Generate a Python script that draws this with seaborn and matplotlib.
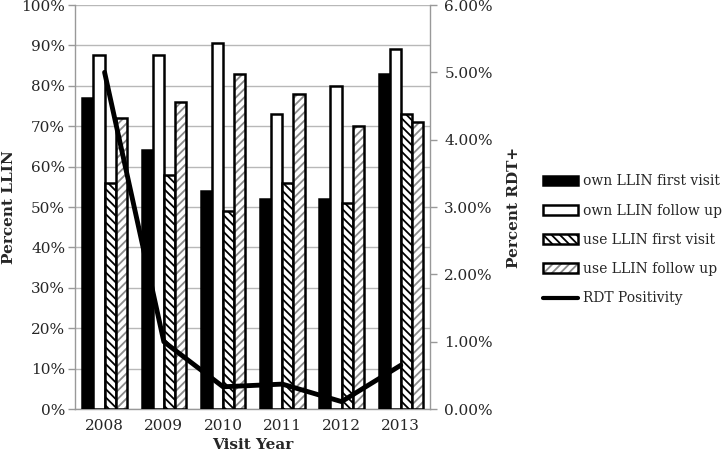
import numpy as np
import pandas as pd
import matplotlib
matplotlib.use('Agg')
import matplotlib.pyplot as plt
import seaborn as sns
from matplotlib.patches import Patch, Rectangle
from matplotlib.lines import Line2D
from matplotlib.ticker import FuncFormatter

years = ['2008', '2009', '2010', '2011', '2012', '2013']
own_first = [77, 64, 54, 52, 52, 83]
own_follow = [87.7, 87.7, 90.6, 73, 80, 89]
use_first = [56, 58, 49, 56, 51, 73]
use_follow = [72, 76, 83, 78, 70, 71]
rdt_pos = [5.0, 1.0, 0.33, 0.37, 0.11, 0.65]
series_names = ['own LLIN first visit', 'own LLIN follow up',
                'use LLIN first visit', 'use LLIN follow up']
line_name = 'RDT Positivity'
left_ticks = list(range(0, 101, 10))
right_ticks = [0, 1, 2, 3, 4, 5, 6]

sns.set_style('white')
plt.rcParams['font.family'] = ['DejaVu Serif']
plt.rcParams['hatch.linewidth'] = 1.3

df = pd.DataFrame({
    'year': years * 4,
    'value': own_first + own_follow + use_first + use_follow,
    'measure': np.repeat(series_names, len(years)),
})

fig = plt.figure(figsize=(7.25, 4.57), dpi=100)
ax = fig.add_axes([0.1034, 0.105, 0.4903, 0.884])

sns.barplot(data=df, x='year', y='value', hue='measure', hue_order=series_names,
            order=years, palette=['black', 'white', 'white', 'white'],
            width=0.75, ax=ax, legend=False, errorbar=None, zorder=3,
            saturation=1)

edge_lw = 1.8
gray = '#8a8a8a'
for i, cont in enumerate(ax.containers):
    for p in cont.patches:
        if i == 0:
            p.set_facecolor('black'); p.set_edgecolor('black'); p.set_linewidth(edge_lw)
        elif i == 1:
            p.set_facecolor('white'); p.set_edgecolor('black'); p.set_linewidth(edge_lw)
        elif i == 2:
            p.set_facecolor('white'); p.set_edgecolor('black'); p.set_linewidth(edge_lw)
            p.set_hatch('\\\\\\\\')
        else:
            p.set_facecolor('white'); p.set_edgecolor(gray); p.set_linewidth(0)
            p.set_hatch('////')
            ov = Rectangle(p.get_xy(), p.get_width(), p.get_height(), fill=False,
                           edgecolor='black', linewidth=edge_lw, zorder=3.1)
            ax.add_patch(ov)

ax.set_ylim(0, 100)
ax.set_yticks(left_ticks)
ax.yaxis.set_major_formatter(FuncFormatter(lambda v, _: f'{v:.0f}%'))
ax.yaxis.grid(True, color='#b8b8b8', linewidth=1)
ax.set_axisbelow(True)
ax.set_xlim(-0.5, len(years) - 0.5)
ax.set_xticks(np.arange(len(years)))
ax.set_xticks(np.arange(len(years) + 1) - 0.5, minor=True)
ax.tick_params(axis='x', which='major', length=0, labelsize=11, pad=7)
ax.tick_params(axis='x', which='minor', length=5, color='#999999', width=1)
ax.tick_params(axis='y', length=5, color='#999999', width=1, labelsize=11, pad=2)
for s in ['left', 'bottom']:
    ax.spines[s].set_color('#999999')
    ax.spines[s].set_linewidth(1)
ax.spines['top'].set_visible(False)
ax.spines['right'].set_visible(False)
ax.set_xlabel('Visit Year', fontweight='bold', fontsize=11, labelpad=4)
ax.set_ylabel('Percent LLIN', fontweight='bold', fontsize=11, labelpad=4)

ax2 = ax.twinx()
sns.lineplot(x=np.arange(len(years)), y=rdt_pos, ax=ax2, color='black', linewidth=3.5)
ax2.set_ylim(0, 6)
ax2.set_yticks(right_ticks)
ax2.yaxis.set_major_formatter(FuncFormatter(lambda v, _: f'{v:.2f}%'))
ax2.tick_params(axis='y', length=5, color='#999999', width=1, labelsize=11, pad=5)
for s in ['left', 'bottom', 'top']:
    ax2.spines[s].set_visible(False)
ax2.spines['right'].set_color('#999999')
ax2.spines['right'].set_linewidth(1)
ax2.set_ylabel('Percent RDT+', fontweight='bold', fontsize=11, labelpad=10)
ax.set_xlim(-0.5, len(years) - 0.5)

handles = [
    Patch(facecolor='black', edgecolor='black', linewidth=edge_lw),
    Patch(facecolor='white', edgecolor='black', linewidth=edge_lw),
    Patch(facecolor='white', edgecolor='black', linewidth=edge_lw, hatch='\\\\\\\\'),
    (Patch(facecolor='white', edgecolor=gray, linewidth=0, hatch='////'),
     Patch(fill=False, edgecolor='black', linewidth=edge_lw)),
    Line2D([0], [0], color='black', linewidth=3),
]
fig.legend(handles, series_names + [line_name], loc='upper left',
           bbox_to_anchor=(0.732, 0.646), frameon=False, fontsize=10,
           handlelength=2.5, handleheight=0.7, labelspacing=1.1, handletextpad=0.36)

fig.savefig('out.png', dpi=100)
